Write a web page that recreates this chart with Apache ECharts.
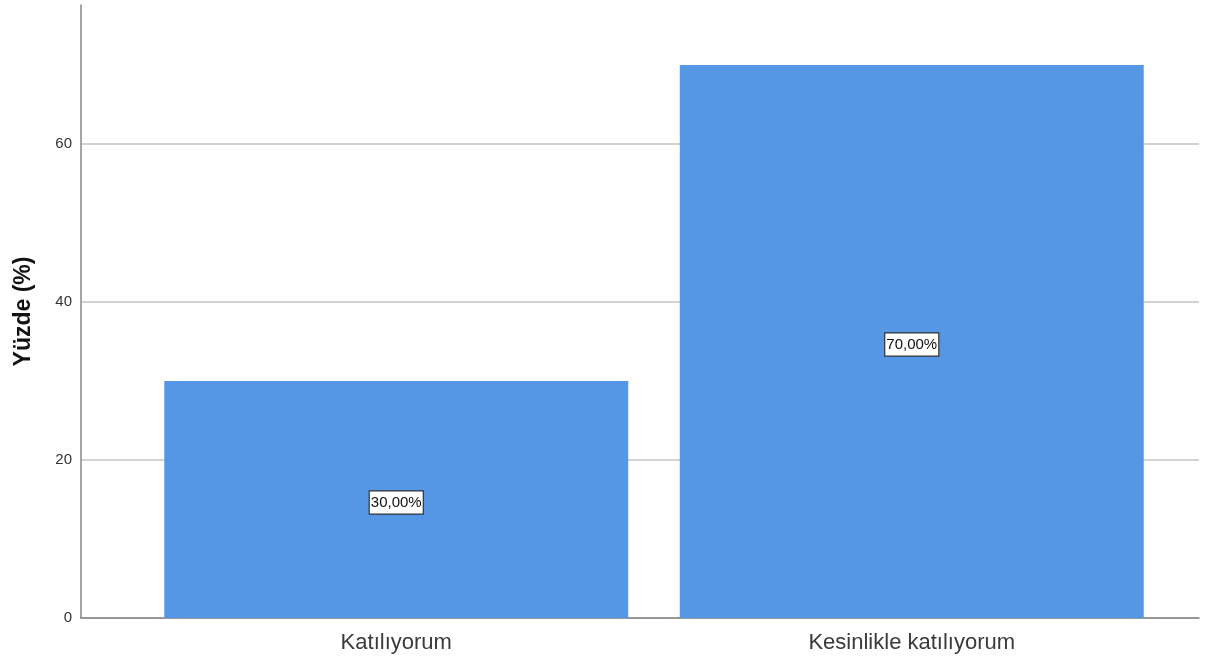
<!DOCTYPE html>
<html>
<head>
<meta charset="utf-8">
<style>
  html, body { margin: 0; padding: 0; background: #fff; }
  #chart { width: 1215px; height: 664px; }
</style>
</head>
<body>
<div id="chart"></div>
<script src="https://cdn.jsdelivr.net/npm/echarts@6/dist/echarts.min.js"></script>
<script>
// kategoriler ve yüzde değerleri
var categories = ['Katılıyorum', 'Kesinlikle katılıyorum'];
var percents = [30, 70];
var yTicks = [0, 20, 40, 60];

var yMax = 77.6;
var chart = echarts.init(document.getElementById('chart'));

var option = {
  backgroundColor: '#ffffff',
  animation: false,
  textStyle: { fontFamily: 'Liberation Sans, Arial, sans-serif' },
  grid: [
    // eksenler ve ızgara çizgileri
    { left: 81, right: 16, top: 5, bottom: 46 },
    // çubuklar (SPSS gibi kenarlardan içeride)
    { left: 138.5, right: 45.5, top: 5, bottom: 46 }
  ],
  xAxis: [
    {
      type: 'category', gridIndex: 0, data: [''],
      axisLine: { lineStyle: { color: '#777', width: 1.5 } },
      axisTick: { show: false }, axisLabel: { show: false }
    },
    {
      type: 'category', gridIndex: 1, data: categories,
      axisLine: { show: false }, axisTick: { show: false },
      axisLabel: { fontSize: 22, color: '#3a3a3a', margin: 14 }
    }
  ],
  yAxis: [
    {
      type: 'value', gridIndex: 0, min: 0, max: yMax, interval: 20,
      name: 'Yüzde (%)', nameLocation: 'middle', nameGap: 46,
      nameTextStyle: { fontSize: 23, fontWeight: 'bold', color: '#111' },
      axisLine: { show: true, lineStyle: { color: '#888', width: 1.5 } },
      axisTick: { show: false },
      axisLabel: {
        fontSize: 15, color: '#333', margin: 9, showMaxLabel: false,
        formatter: function (v) { return yTicks.indexOf(v) >= 0 ? String(v) : ''; }
      },
      splitLine: { show: true, showMaxLine: false, showMinLine: false, lineStyle: { color: '#c4c4c4', width: 1.5 } }
    },
    {
      type: 'value', gridIndex: 1, min: 0, max: yMax, show: false
    }
  ],
  series: [
    {
      type: 'bar', xAxisIndex: 1, yAxisIndex: 1,
      data: percents,
      barCategoryGap: '10%',
      itemStyle: { color: '#5596e5' },
      label: {
        show: true, position: 'inside', offset: [0, 3],
        formatter: function (p) { return p.value.toFixed(2).replace('.', ',') + '%'; },
        fontSize: 15, color: '#111',
        backgroundColor: '#fff', borderColor: '#333', borderWidth: 1.2,
        padding: [4, 1, 3, 1]
      }
    }
  ]
};

chart.setOption(option);
</script>
</body>
</html>
